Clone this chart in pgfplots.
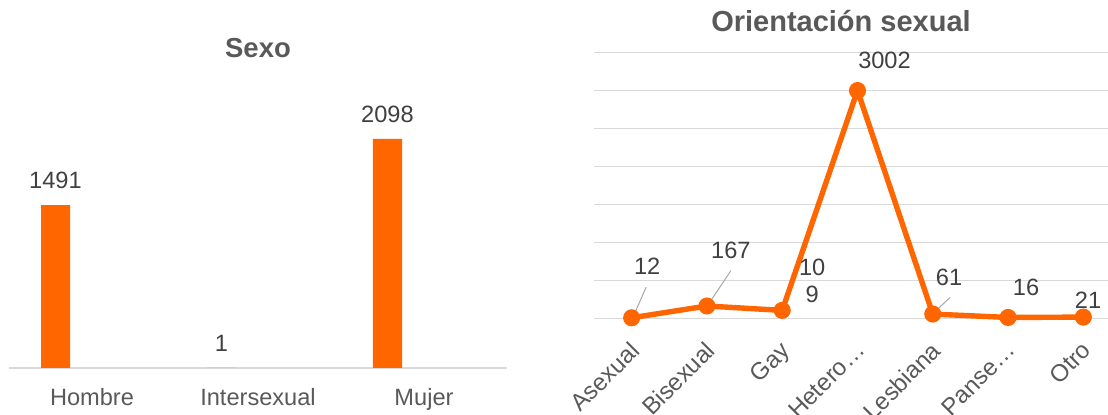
\documentclass[border=0pt]{standalone}
\usepackage{fontspec}
\setmainfont{Liberation Sans}
\usepackage{pgfplots}
\pgfplotsset{compat=1.18}
\usepackage{pgfplotstable}

\definecolor{barorange}{RGB}{255,102,0}
\definecolor{gridgray}{RGB}{217,217,217}
\definecolor{ticktext}{RGB}{89,89,89}
\definecolor{valtext}{RGB}{64,64,64}
\definecolor{leader}{RGB}{166,166,166}

\pgfplotsset{/pgf/number format/assume math mode=true,
  /pgf/number format/1000 sep={}}

% orientacion sexual: value, label offset (pt) and label text
\pgfplotstableread{
x y dx dy lab
0 12 7.75 20.5 12
1 167 12 22.2 167
2 109 15 2.5 {10\\9}
3 3002 13.5 9.5 3002
4 61 8.15 13 61
5 16 9 9.6 16
6 21 2.35 3 21
}\orient

\begin{document}
\begin{tikzpicture}
\path[use as bounding box] (0,0) rectangle (554pt,207.5pt);

% --- Sexo ---
\begin{axis}[
    at={(4.5pt,23.5pt)}, anchor=south west,
    scale only axis, width=249pt, height=136.5pt,
    xmin=-0.5, xmax=2.5, ymin=0, ymax=2500,
    clip=false,
    hide y axis, axis x line*=bottom,
    x axis line style={color=gridgray, line width=0.75pt},
    major tick length=0pt,
    xtick={0,1,2}, xticklabels={Hombre,Intersexual,Mujer},
    xticklabel style={font=\fontsize{11.8}{14}\selectfont, color=ticktext,
      inner sep=0pt, anchor=north, yshift=-10pt},
    title={\textbf{Sexo}},
    title style={font=\fontsize{13.75}{16}\selectfont, color=ticktext,
      at={(0.5,1)}, anchor=base, yshift=12.6pt},
    ybar, bar width=14.5pt, bar shift=-18.25pt,
    nodes near coords,
    nodes near coords style={font=\fontsize{11.8}{14}\selectfont, color=valtext,
      anchor=south, inner sep=0pt, yshift=8pt},
]
\addplot[fill=barorange, draw=none] coordinates {(0,1491) (1,1) (2,2098)};
\end{axis}

% --- Orientacion sexual ---
\begin{axis}[
    at={(297pt,48.15pt)}, anchor=south west,
    scale only axis, width=263.5pt, height=133pt,
    xmin=-0.5, xmax=6.5, ymin=0, ymax=3500,
    clip=false,
    axis line style={draw=none},
    major tick length=0pt,
    ytick={0,500,...,3500}, yticklabels={},
    ymajorgrids, grid style={color=gridgray, line width=0.75pt},
    xtick={0,...,6},
    xticklabels={Asexual,Bisexual,Gay,Hetero…,Lesbiana,Panse…,Otro},
    xticklabel style={font=\fontsize{12}{14}\selectfont, color=ticktext,
      xshift=-1.5pt, yshift=-10.5pt, rotate=45, anchor=north east, inner sep=0pt},
    title={\textbf{Orientación sexual}},
    title style={font=\fontsize{14.5}{17}\selectfont, color=ticktext,
      at={(0,1)}, anchor=base, xshift=123.5pt, yshift=4.6pt},
]
\addplot[color=barorange, line width=2.7pt, mark=*, mark size=2.9pt,
    mark options={solid, fill=barorange, draw=barorange},
    point meta=explicit symbolic,
    visualization depends on={\thisrow{dx}\as\dx},
    visualization depends on={\thisrow{dy}\as\dy},
    nodes near coords,
    nodes near coords style={font=\fontsize{11.8}{13.35}\selectfont, color=valtext,
      anchor=south, inner sep=0pt, align=center, xshift=\dx pt, yshift=\dy pt},
  ] table[x=x, y=y, meta=lab] {\orient};
\draw[leader, line width=0.5pt] ([shift={(1.4pt,2pt)}]axis cs:0,12) -- ([shift={(7.25pt,15.3pt)}]axis cs:0,12);
\draw[leader, line width=0.5pt] ([shift={(0.5pt,0.5pt)}]axis cs:1,167) -- ([shift={(11.95pt,17.65pt)}]axis cs:1,167);
\draw[leader, line width=0.5pt] ([shift={(0.3pt,0.5pt)}]axis cs:4,61) -- ([shift={(8.65pt,8.3pt)}]axis cs:4,61);
\end{axis}
\end{tikzpicture}
\end{document}
